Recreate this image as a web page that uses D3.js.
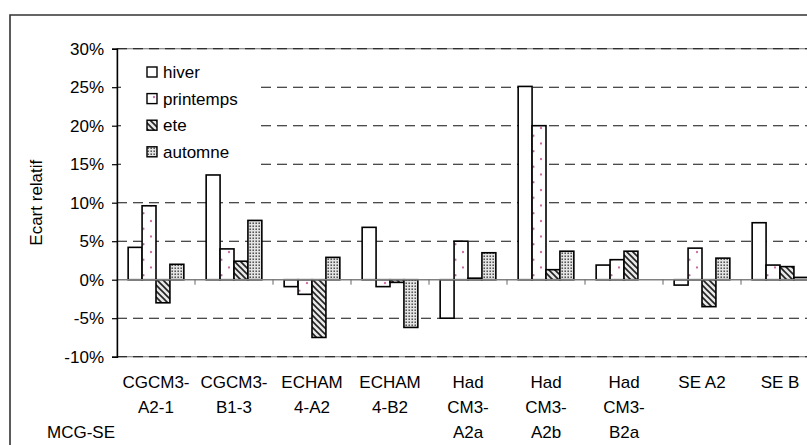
<!DOCTYPE html>
<html>
<head>
<meta charset="utf-8">
<script src="https://cdn.jsdelivr.net/npm/d3@7/dist/d3.min.js"></script>
<style>
  html, body { margin: 0; padding: 0; background: #fff; }
  svg { display: block; font-family: "Liberation Sans", Arial, sans-serif; }
</style>
</head>
<body>
<svg id="chart" width="807" height="445"></svg>
<script>
// ---- data ----
const categories = [
  ["CGCM3-", "A2-1"],
  ["CGCM3-", "B1-3"],
  ["ECHAM", "4-A2"],
  ["ECHAM", "4-B2"],
  ["Had", "CM3-", "A2a"],
  ["Had", "CM3-", "A2b"],
  ["Had", "CM3-", "B2a"],
  ["SE A2"],
  ["SE B"]
];
const seriesNames = ["hiver", "printemps", "ete", "automne"];
const hiver     = [4.2, 13.6, -0.9, 6.8, -5.0, 25.1, 1.9, -0.7, 7.4];
const printemps = [9.6, 4.0, -1.9, -0.9, 5.0, 20.0, 2.6, 4.1, 1.9];
const ete       = [-3.0, 2.4, -7.5, -0.35, 0.2, 1.3, 3.7, -3.5, 1.7];
const automne   = [2.0, 7.7, 2.9, -6.2, 3.5, 3.7, 0.0, 2.8, 0.3];
const yTicks = [-10, -5, 0, 5, 10, 15, 20, 25, 30];
const yTitle = "Ecart relatif";
const xTitle = "MCG-SE";

const seriesValues = [hiver, printemps, ete, automne];

// ---- layout ----
const svg = d3.select("#chart");
const plotLeft = 117, catW = 78;
const plotRight = plotLeft + catW * categories.length;
const y = d3.scaleLinear().domain([-10, 30]).range([356.7, 48.7]);
const x0 = d3.scaleBand().domain(d3.range(categories.length)).range([plotLeft, plotRight]).paddingInner(0).paddingOuter(0);
const x1 = d3.scaleBand().domain(seriesNames)
  .range([x0.bandwidth() * 0.143, x0.bandwidth() * 0.857]).padding(0);

// ---- patterns ----
const defs = svg.append("defs");
const pP = defs.append("pattern").attr("id", "pat-printemps").attr("patternUnits", "userSpaceOnUse")
  .attr("width", 15).attr("height", 15.5);
pP.append("rect").attr("width", 15).attr("height", 15.5).attr("fill", "#fff");
pP.append("circle").attr("cx", 4).attr("cy", 4).attr("r", 1.1).attr("fill", "#c9559a");
pP.append("circle").attr("cx", 11.5).attr("cy", 11.8).attr("r", 1.1).attr("fill", "#c9559a");

const pE = defs.append("pattern").attr("id", "pat-ete").attr("patternUnits", "userSpaceOnUse")
  .attr("width", 6).attr("height", 6);
pE.append("rect").attr("width", 6).attr("height", 6).attr("fill", "#e8e8e8");
pE.append("path").attr("d", "M-1,-1 L7,7 M-4,2 L2,8 M4,-2 L10,4").attr("stroke", "#222").attr("stroke-width", 1.6);

const pA = defs.append("pattern").attr("id", "pat-automne").attr("patternUnits", "userSpaceOnUse")
  .attr("width", 3).attr("height", 3);
pA.append("rect").attr("width", 3).attr("height", 3).attr("fill", "#e4e4e4");
pA.append("rect").attr("x", 0.5).attr("y", 0.5).attr("width", 1.4).attr("height", 1.4).attr("fill", "#333");

const fills = {
  hiver: "#ffffff",
  printemps: "url(#pat-printemps)",
  ete: "url(#pat-ete)",
  automne: "url(#pat-automne)"
};

// ---- outer chart border ----
svg.append("path").attr("d", "M10,450 L10,15 L815,15")
  .attr("fill", "none").attr("stroke", "#333").attr("stroke-width", 1.6);

// ---- plot area border (gray) ----
svg.append("rect").attr("x", plotLeft).attr("y", y(30))
  .attr("width", plotRight - plotLeft).attr("height", y(-10) - y(30))
  .attr("fill", "none").attr("stroke", "#888").attr("stroke-width", 1.2);

// ---- gridlines ----
svg.append("g").selectAll("line").data(yTicks.filter(d => d !== 0)).join("line")
  .attr("x1", plotLeft).attr("x2", plotRight)
  .attr("y1", d => y(d)).attr("y2", d => y(d))
  .attr("stroke", "#111").attr("stroke-width", 1.1)
  .attr("stroke-dasharray", "10,6");

// ---- legend background (covers gridlines) ----
svg.append("rect").attr("x", 121).attr("y", 56).attr("width", 134).attr("height", 112).attr("fill", "#fff");

// ---- bars ----
const groups = svg.append("g").selectAll("g").data(categories.map((c, i) => i)).join("g")
  .attr("transform", i => `translate(${x0(i)},0)`);
groups.selectAll("rect")
  .data(i => seriesNames.map((s, k) => ({ s, v: seriesValues[k][i] })).filter(d => d.v !== 0))
  .join("rect")
  .attr("x", d => x1(d.s))
  .attr("width", x1.bandwidth())
  .attr("y", d => y(Math.max(0, d.v)))
  .attr("height", d => Math.abs(y(d.v) - y(0)))
  .attr("fill", d => fills[d.s])
  .attr("stroke", "#000").attr("stroke-width", 1.6);

// ---- category axis (zero line) ----
svg.append("line").attr("x1", plotLeft).attr("x2", plotRight).attr("y1", y(0)).attr("y2", y(0))
  .attr("stroke", "#808080").attr("stroke-width", 1.6);
svg.append("g").selectAll("line").data(d3.range(1, categories.length)).join("line")
  .attr("x1", i => x0(i)).attr("x2", i => x0(i))
  .attr("y1", y(0)).attr("y2", y(0) + 5)
  .attr("stroke", "#666").attr("stroke-width", 1);

// ---- y axis ----
const yAxis = d3.axisLeft(y).tickValues(yTicks).tickFormat(d => d + "%").tickSize(5).tickPadding(8);
const yg = svg.append("g").attr("transform", `translate(${plotLeft},0)`).call(yAxis);
yg.select(".domain").attr("stroke", "#000").attr("stroke-width", 1.4);
yg.selectAll(".tick line").attr("stroke", "#000").attr("stroke-width", 1.2);
yg.selectAll(".tick text").attr("font-size", 17).attr("fill", "#000")
  .attr("font-family", "Liberation Sans, Arial, sans-serif");

svg.append("text").attr("transform", `translate(42,${(y(30) + y(-10)) / 2}) rotate(-90)`)
  .attr("text-anchor", "middle").attr("font-size", 17).text(yTitle);

// ---- category labels ----
const labG = svg.append("g");
categories.forEach((lines, i) => {
  lines.forEach((t, j) => {
    labG.append("text").attr("x", x0(i) + x0.bandwidth() / 2).attr("y", 388 + j * 25)
      .attr("text-anchor", "middle").attr("font-size", 17).text(t);
  });
});
svg.append("text").attr("x", 47).attr("y", 438).attr("font-size", 17).text(xTitle);

// ---- legend ----
const lg = svg.append("g");
seriesNames.forEach((s, k) => {
  const cy = 72 + k * 26.6;
  lg.append("rect").attr("x", 147).attr("y", cy - 5).attr("width", 10).attr("height", 10)
    .attr("fill", fills[s]).attr("stroke", "#000").attr("stroke-width", 1.4);
  lg.append("text").attr("x", 163).attr("y", cy + 6).attr("font-size", 17).text(s);
});
</script>
</body>
</html>
